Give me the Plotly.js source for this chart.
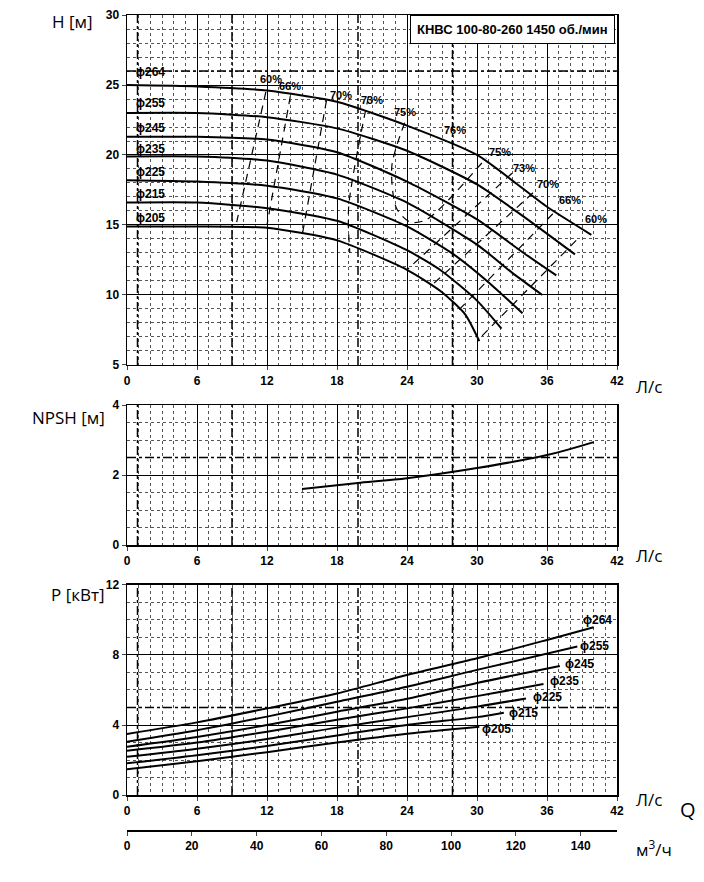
<!DOCTYPE html>
<html>
<head>
<meta charset="utf-8">
<script src="https://cdn.plot.ly/plotly-3.0.1.min.js"></script>
<style>body{margin:0;background:#fff}</style>
</head>
<body>
<div id="chart" style="width:704px;height:882px"></div>
<script>
// ---- head curves H(Q) per impeller diameter ----
var diameters = ['ϕ264', 'ϕ255', 'ϕ245', 'ϕ235', 'ϕ225', 'ϕ215', 'ϕ205'];
var headQ = [
    [0, 6, 12, 18, 24, 30, 36, 39.8],
    [0, 6, 12, 18, 24, 30, 34, 38.4],
    [0, 6, 12, 18, 24, 30, 34, 36.8],
    [0, 6, 12, 18, 24, 30, 33, 35.6],
    [0, 6, 12, 18, 24, 28, 31, 33.9],
    [0, 6, 12, 18, 24, 27, 30, 32.1],
    [0, 6, 12, 18, 24, 27, 29, 30.2]
];
var headH = [
    [25.0, 24.9, 24.6, 23.8, 22.1, 20.0, 16.3, 14.3],
    [23.0, 23.0, 22.7, 21.9, 20.3, 17.9, 15.6, 12.9],
    [21.3, 21.3, 21.1, 20.2, 18.1, 15.4, 13.0, 11.4],
    [19.9, 19.9, 19.6, 18.6, 16.6, 13.6, 11.6, 10.0],
    [18.2, 18.1, 17.8, 16.9, 14.9, 12.9, 10.9, 8.7],
    [16.6, 16.6, 16.2, 15.3, 13.2, 11.7, 9.6, 7.6],
    [14.9, 14.9, 14.8, 13.9, 11.8, 10.2, 8.6, 6.7]
];
var diamLabelQ = [2.0, 2.0, 2.0, 2.0, 2.0, 2.0, 2.0];
var diamLabelH = [25.9, 23.7, 21.9, 20.4, 18.8, 17.2, 15.5];

// ---- iso-efficiency lines ----
var effQ = [
    [11.9, 9.4],
    [14.0, 12.0],
    [17.1, 15.0],
    [20.7, 19.0, 19.1],
    [23.8, 22.7, 23.1, 24.3, 25.7, 30.8],
    [33.0, 24.0],
    [34.8, 26.0],
    [36.5, 28.3],
    [38.5, 30.1]
];
var effH = [
    [24.5, 15.2],
    [24.2, 15.0],
    [23.9, 14.2],
    [24.2, 16.3, 13.0],
    [22.3, 19.2, 16.2, 15.2, 15.4, 19.8],
    [18.7, 11.8],
    [17.3, 10.6],
    [15.8, 8.8],
    [13.9, 6.8]
];
var effLabels = ['60%', '66%', '70%', '73%', '75%', '76%', '75%', '73%', '70%', '66%', '60%'];
var effLabelQ = [12.3, 14.0, 18.3, 21.0, 23.8, 28.1, 32.0, 34.0, 36.1, 38.0, 40.2];
var effLabelH = [25.4, 24.9, 24.3, 23.9, 23.1, 21.8, 20.2, 19.1, 17.9, 16.8, 15.4];

// ---- NPSH ----
var npshQ = [15, 20, 24, 30, 36, 40];
var npshH = [1.6, 1.78, 1.91, 2.2, 2.57, 2.94];

// ---- power ----
var powerQ = [
    [0, 6, 12, 18, 24, 30, 36, 40.0],
    [0, 6, 12, 18, 24, 30, 38.6],
    [0, 6, 12, 18, 24, 30, 37.1],
    [0, 6, 12, 18, 24, 30, 35.7],
    [0, 6, 12, 18, 24, 30, 34.2],
    [0, 6, 12, 18, 24, 30, 32.3],
    [0, 6, 12, 18, 24, 30.2]
];
var powerP = [
    [3.49, 4.15, 4.95, 5.8, 6.86, 7.81, 8.86, 9.58],
    [3.05, 3.7, 4.48, 5.33, 6.19, 7.15, 8.48],
    [2.76, 3.32, 4.0, 4.76, 5.5, 6.4, 7.37],
    [2.53, 3.0, 3.62, 4.3, 4.95, 5.65, 6.34],
    [2.19, 2.65, 3.2, 3.85, 4.45, 5.05, 5.52],
    [1.81, 2.27, 2.8, 3.4, 4.0, 4.45, 4.70],
    [1.47, 1.93, 2.45, 3.0, 3.5, 3.9]
];
var powerLabelQ = [40.3, 40.1, 38.8, 37.5, 36.0, 34.0, 31.7];
var powerLabelP = [10.0, 8.5, 7.5, 6.5, 5.6, 4.7, 3.8];

var boldFont = {family: 'Liberation Sans, Arial, sans-serif', size: 12, color: '#000', weight: 'bold'};
var labelFont = {family: 'Liberation Sans, Arial, sans-serif', size: 12, color: '#000', weight: 'bold'};
var traces = [];
var annotations = [];

for (var i = 0; i < diameters.length; i++) {
    traces.push({x: headQ[i], y: headH[i], mode: 'lines', line: {color: '#000', width: 2, shape: 'spline', smoothing: 0.6},
        xaxis: 'x', yaxis: 'y', hoverinfo: 'skip'});
    annotations.push({x: diamLabelQ[i], y: diamLabelH[i], xref: 'x', yref: 'y', text: diameters[i],
        showarrow: false, font: labelFont});
    traces.push({x: powerQ[i], y: powerP[i], mode: 'lines', line: {color: '#000', width: 2, shape: 'spline', smoothing: 0.8},
        xaxis: 'x3', yaxis: 'y3', hoverinfo: 'skip'});
    annotations.push({x: powerLabelQ[i], y: powerLabelP[i], xref: 'x3', yref: 'y3', text: diameters[i],
        showarrow: false, font: labelFont});
}
for (var e = 0; e < effQ.length; e++) {
    traces.push({x: effQ[e], y: effH[e], mode: 'lines', line: {color: '#000', width: 1.2, dash: '8px,6px', shape: 'spline', smoothing: 0.8},
        xaxis: 'x', yaxis: 'y', hoverinfo: 'skip'});
}
for (var k = 0; k < effLabels.length; k++) {
    annotations.push({x: effLabelQ[k], y: effLabelH[k], xref: 'x', yref: 'y', text: effLabels[k],
        showarrow: false, font: {family: 'Liberation Sans, Arial', size: 11, color: '#000', weight: 'bold'}});
}
traces.push({x: npshQ, y: npshH, mode: 'lines', line: {color: '#000', width: 2, shape: 'spline'},
    xaxis: 'x2', yaxis: 'y2', hoverinfo: 'skip'});
// dummy trace for the m3/h axis
traces.push({x: [0, 151.2], y: [0, 0], mode: 'lines', line: {color: 'rgba(0,0,0,0)'}, xaxis: 'x4', yaxis: 'y4', hoverinfo: 'skip'});

function xAx(anchor) {
    return {anchor: anchor, range: [0, 42], dtick: 6, tick0: 0, showgrid: true, gridcolor: '#000', gridwidth: 1,
        minor: {dtick: 1, showgrid: true, gridcolor: '#555', griddash: 'dot', gridwidth: 1},
        showline: true, linecolor: '#000', linewidth: 1.5, mirror: true, ticks: 'outside', ticklen: 4,
        tickfont: boldFont, zeroline: false, fixedrange: true};
}
function yAx(domain, range, dtick, minor) {
    return {domain: domain, range: range, dtick: dtick, showgrid: true, gridcolor: '#000', gridwidth: 1,
        minor: {dtick: minor, showgrid: true, gridcolor: '#555', griddash: 'dot', gridwidth: 1},
        showline: true, linecolor: '#000', linewidth: 1.5, mirror: true, ticks: 'outside', ticklen: 4,
        tickfont: boldFont, zeroline: false, fixedrange: true};
}

var shapes = [];
var dashX = [0.9, 9, 19.8, 27.9];
[['x', 'y'], ['x2', 'y2'], ['x3', 'y3']].forEach(function (p) {
    dashX.forEach(function (q) {
        shapes.push({type: 'line', xref: p[0], yref: p[1] + ' domain', x0: q, x1: q, y0: 0, y1: 1,
            line: {color: '#000', width: 1.5, dash: 'dashdot'}});
    });
});
[['x', 'y', 26], ['x2', 'y2', 2.5], ['x3', 'y3', 5]].forEach(function (p) {
    shapes.push({type: 'line', xref: p[0] + ' domain', yref: p[1], x0: 0, x1: 1, y0: p[2], y1: p[2],
        line: {color: '#000', width: 1.5, dash: 'dashdot'}});
});

var unitFont = {family: 'Open Sans, sans-serif', size: 17, color: '#000'};
annotations.push(
    {xref: 'paper', yref: 'y', x: 0.995, xanchor: 'right', y: 29.0, text: 'КНВС 100-80-260 1450 об./мин', showarrow: false,
        bgcolor: '#fff', bordercolor: '#000', borderwidth: 1, borderpad: 6, font: {family: 'Liberation Sans, Arial', size: 13, color: '#000', weight: 'bold'}},
    {xref: 'paper', yref: 'paper', x: -0.065, y: 1.008, text: 'H [м]', showarrow: false, xanchor: 'right', yanchor: 'top', font: unitFont},
    {xref: 'paper', yref: 'paper', x: -0.04, y: 0.53, text: 'NPSH [м]', showarrow: false, xanchor: 'right', yanchor: 'top', font: unitFont},
    {xref: 'paper', yref: 'paper', x: -0.04, y: 0.315, text: 'P [кВт]', showarrow: false, xanchor: 'right', yanchor: 'top', font: unitFont},
    {xref: 'paper', yref: 'paper', x: 1.035, y: 0.551, text: 'Л/с', showarrow: false, xanchor: 'left', font: unitFont},
    {xref: 'paper', yref: 'paper', x: 1.035, y: 0.33, text: 'Л/с', showarrow: false, xanchor: 'left', font: unitFont},
    {xref: 'paper', yref: 'paper', x: 1.035, y: 0.035, text: 'Л/с', showarrow: false, xanchor: 'left', font: unitFont},
    {xref: 'paper', yref: 'paper', x: 1.125, y: 0.02, text: 'Q', showarrow: false, xanchor: 'left', font: {family: 'Open Sans', size: 20, color: '#000'}},
    {xref: 'paper', yref: 'paper', x: 1.035, y: -0.025, text: 'м<sup>3</sup>/ч', showarrow: false, xanchor: 'left', font: unitFont}
);

var layout = {
    width: 704, height: 882,
    margin: {l: 127, r: 87, t: 15, b: 40},
    paper_bgcolor: '#fff', plot_bgcolor: '#fff',
    showlegend: false,
    xaxis: xAx('y'),
    xaxis2: xAx('y2'),
    xaxis3: xAx('y3'),
    xaxis4: {anchor: 'y4', range: [0, 151.2], tickvals: [0, 20, 40, 60, 80, 100, 120, 140], showgrid: false,
        showline: true, linecolor: '#000', linewidth: 1.5, ticks: 'outside', ticklen: 4, tickfont: boldFont,
        zeroline: false, fixedrange: true},
    yaxis: yAx([0.5768, 1], [5, 30], 5, 1),
    yaxis2: yAx([0.3591, 0.5284], [0, 4], 2, 0.5),
    yaxis3: yAx([0.0568, 0.3108], [0, 12], 4, 1),
    yaxis4: {domain: [0.0145, 0.0150], range: [0, 1], visible: false, fixedrange: true},
    shapes: shapes,
    annotations: annotations
};

Plotly.newPlot('chart', traces, layout, {staticPlot: true});
</script>
</body>
</html>
